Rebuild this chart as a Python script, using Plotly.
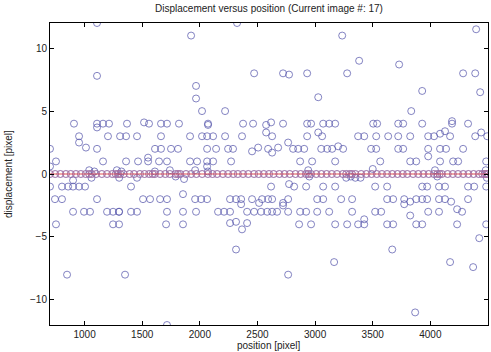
import plotly.graph_objects as go

# ---- data (position [pixel], displacement [pixel]) ----
pos_outlier = [1108, 1108, 2323, 1924, 1967, 1967, 2019, 2219, 2471, 2722, 2774, 2931,
               3027, 3235, 3278, 3382, 3729, 3834, 3929, 4284, 4389, 4432, 4397,
               848, 1351, 1715, 2314, 2766, 3165, 3669, 4171, 4371, 4424, 3868]
disp_outlier = [12, 7.8, 12, 11, 7, 6, 5, 5, 8, 8, 7.9, 8,
                6.1, 11, 8, 9, 8.7, 5, 6.6, 8, 8, 6.5, 11.5,
                -8, -8, -12, -6, -8, -7, -6, -7, -7.4, -5.1, -11]

pos_r4 = [908, 1108, 1108, 1160, 1212, 1368, 1516, 1559, 1663, 1715, 1819, 2071, 2071,
          2375, 2462, 2575, 2618, 2722, 2931, 2965, 3070, 3122, 3174, 3504, 3538,
          3721, 3764, 3929, 4188, 4188, 4327]
disp_r4 = [4, 4, 3.7, 4, 4, 4, 4.1, 4, 4, 4, 4, 4, 3.9,
           4, 4, 3.9, 4.1, 4, 4, 4, 4, 4, 4, 4, 4,
           4, 4, 4, 4.2, 4, 4]

pos_r3 = [952, 952, 1203, 1308, 1360, 1455, 1663, 1915, 2019, 2063, 2115, 2219, 2366,
          2575, 2627, 2931, 3027, 3061, 3373, 3426, 3530, 3634, 3721, 3825, 3981,
          4032, 4084, 4127, 4171, 4389, 4441, 4493]
disp_r3 = [3, 2.5, 3, 3, 3, 3, 3, 3, 3, 3, 3, 3, 3,
           3.3, 3, 3, 3.3, 3, 3, 3, 3, 3, 3, 3, 3,
           3, 3.2, 3.4, 3, 3, 3.3, 3]

pos_r2 = [700, 1012, 1108, 1611, 1663, 1750, 1811, 2063, 2141, 2245, 2288, 2453, 2506,
          2592, 2627, 2679, 2766, 2809, 2853, 2905, 3053, 3105, 3148, 3200, 3243,
          3486, 3530, 3721, 3764, 3981, 3981, 4084, 4136, 4284]
disp_r2 = [2, 2.1, 2, 2, 2, 2, 2, 2, 2, 2, 2, 1.8, 2.1,
           2, 1.7, 2.1, 2.5, 2, 2, 2, 2, 2, 2, 2.2, 2,
           2, 2, 2, 2, 2, 1.4, 2, 2, 2]

pos_r1 = [752, 1160, 1360, 1464, 1551, 1551, 1646, 1715, 1915, 1976, 2063, 2115, 2271,
          2870, 2974, 3174, 3565, 3825, 3877, 4084, 4197, 4241, 4484, 700, 2063, 1959]
disp_r1 = [1, 1, 1, 1, 1.3, 1, 1, 1, 1, 1, 1, 1, 1,
           1, 1, 1, 1, 1, 1, 1, 1, 1, 1, 0.6, 0.6, 0.3]

pos_m1 = [700, 804, 857, 900, 952, 1004, 1403, 900, 1455, 1863, 2618, 2774, 2818, 2922,
          3070, 3174, 3521, 3625, 3929, 3972, 4075, 4127, 4327, 4380, 4484, 3349, 3394]
disp_m1 = [-1, -1, -1, -1, -1, -1, -1, -0.5, -0.3, -0.4, -1, -0.8, -1, -1,
           -1, -1, -1, -1, -1, -1, -1, -1, -1, -1, -1, -0.3, -0.3]

pos_m2 = [743, 804, 1108, 1507, 1568, 1655, 1715, 1854, 1959, 2011, 2063, 2262, 2314,
          2358, 2358, 2453, 2514, 2540, 2592, 2627, 2722, 2766, 3018, 3070, 3226,
          3321, 3625, 3677, 3773, 3773, 3825, 3877, 3929, 3972, 4075, 4127, 4180, 4327]
disp_m2 = [-2, -2, -2, -2, -2, -2, -2, -1.6, -2, -2, -2, -2, -2,
           -2, -2.4, -2, -2.3, -2, -2, -2, -2.3, -2, -2, -2, -2,
           -2, -2, -2, -2, -2.4, -2.2, -2, -2, -2, -2, -2, -2.2, -2]

pos_m3 = [900, 995, 1047, 1195, 1247, 1299, 1299, 1403, 1455, 1715, 1854, 1967, 2158, 2210,
          2262, 2410, 2471, 2531, 2584, 2627, 2670, 2722, 2766, 2870, 2922, 3018, 3122,
          3321, 3521, 3573, 3825, 3981, 4075, 4232, 4275]
disp_m3 = [-3, -3, -3, -3, -3, -3, -3, -3, -3, -3, -3, -3, -3, -3,
           -3, -3, -3, -3, -3, -3, -3, -2.5, -3, -3, -3, -3, -3,
           -3, -3, -3, -3.3, -3, -3, -2.8, -3]

pos_m4 = [752, 1247, 1299, 1707, 1854, 2262, 2314, 2366, 2410, 2861, 2965, 3174, 3278,
          3373, 3426, 3426, 3625, 3677, 3877, 3929, 4232, 4484]
disp_m4 = [-4, -4, -4, -4, -4, -3.9, -3.8, -4.4, -3.9, -4, -4, -4, -4,
           -4, -3.6, -4, -4, -4, -4, -4, -4, -4]

pos_zero = [700, 745, 790, 838, 880, 925, 968, 1010, 1040, 1062, 1100, 1150, 1195, 1240,
            1270, 1290, 1310, 1340, 1390, 1430, 1480, 1520, 1560, 1590, 1610, 1655, 1700,
            1740, 1790, 1810, 1830, 1880, 1925, 1970, 2020, 2070, 2110, 2150, 2200, 2245,
            2290, 2330, 2375, 2420, 2470, 2510, 2555, 2600, 2640, 2690, 2735, 2780, 2830,
            2875, 2920, 2940, 2965, 3010, 3055, 3100, 3145, 3190, 3240, 3270, 3300, 3320,
            3350, 3400, 3445, 3490, 3535, 3580, 3625, 3670, 3715, 3760, 3800, 3850, 3895,
            3940, 3985, 4030, 4060, 4080, 4100, 4150, 4195, 4240, 4285, 4330, 4375, 4420,
            4450, 4470, 4485, 4495]
pos_near0 = [1040, 1060, 1085, 1280, 1300, 1320, 1610, 1740, 1790, 2070, 2940, 2950,
             3270, 3310, 3500, 4040, 4060, 4480, 4490]
disp_near0 = [0.3, -0.3, 0.2, 0.3, -0.3, 0.2, 0.2, 0.3, -0.2, 0.2, 0.3, -0.2,
              -0.3, -0.2, 0.4, 0.3, -0.2, 0.3, -0.3]

pos_all = (pos_outlier + pos_r4 + pos_r3 + pos_r2 + pos_r1 + pos_m1 + pos_m2 + pos_m3
           + pos_m4 + pos_zero + pos_near0)
disp_all = (disp_outlier + disp_r4 + disp_r3 + disp_r2 + disp_r1 + disp_m1 + disp_m2
            + disp_m3 + disp_m4 + [0] * len(pos_zero) + disp_near0)

fit_x = sorted(set(pos_zero))
fit_y = [0] * len(fit_x)

FONT = "Liberation Sans, Arial, sans-serif"

fig = go.Figure()
fig.add_trace(go.Scatter(
    x=pos_all, y=disp_all, mode="markers",
    marker=dict(symbol="circle-open", size=7, color="rgba(85,85,170,0.72)",
                line=dict(width=1)),
    showlegend=False, hoverinfo="skip"))
fig.add_trace(go.Scatter(
    x=[700] + fit_x + [4500], y=[0] + fit_y + [0], mode="lines",
    line=dict(color="rgba(220,50,50,0.85)", width=1),
    showlegend=False, hoverinfo="skip"))
fig.add_trace(go.Scatter(
    x=fit_x, y=fit_y, mode="markers",
    marker=dict(symbol="circle-open", size=7, color="rgba(210,120,150,0.45)",
                line=dict(width=1)),
    showlegend=False, hoverinfo="skip"))

axis_common = dict(showline=True, linecolor="black", linewidth=1, mirror="ticks",
                   ticks="inside", ticklen=4, tickcolor="black", showgrid=False,
                   zeroline=False, tickfont=dict(family=FONT, size=10, color="#222"))

fig.update_xaxes(range=[700, 4500], tickvals=[1000, 1500, 2000, 2500, 3000, 3500, 4000],
                 **axis_common)
fig.update_yaxes(range=[-12, 12], tickvals=[-10, -5, 0, 5, 10], **axis_common)

fig.update_layout(
    width=491, height=352,
    margin=dict(l=50, r=3, t=23, b=27),
    paper_bgcolor="white", plot_bgcolor="white",
    font=dict(family=FONT, size=10, color="#222"),
    title=dict(text="Displacement versus position (Current image #: 17)",
               x=0.5, xref="paper", xanchor="center",
               y=(352 - 8) / 352, yanchor="middle",
               font=dict(family=FONT, size=10, color="#222")),
    annotations=[
        dict(text="position [pixel]", xref="paper", yref="paper", x=0.5, y=0,
             xanchor="center", yanchor="middle", yshift=-20, showarrow=False,
             font=dict(family=FONT, size=10, color="#222")),
        dict(text="displacement [pixel]", xref="paper", yref="paper", x=0, y=0.5,
             xanchor="center", yanchor="middle", xshift=-42, textangle=-90,
             showarrow=False, font=dict(family=FONT, size=10, color="#222")),
    ],
)

fig.write_html("out.html")
